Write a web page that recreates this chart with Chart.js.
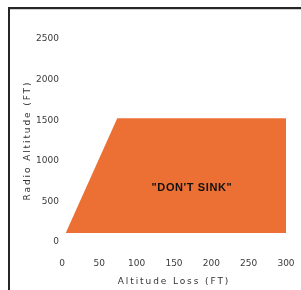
<!DOCTYPE html>
<html>
<head>
<meta charset="utf-8">
<script src="https://cdn.jsdelivr.net/npm/chart.js@4/dist/chart.umd.min.js"></script>
<style>
  html, body { margin: 0; padding: 0; background: #fff; }
  #wrap { position: relative; width: 301px; height: 290px; overflow: hidden; }
  #frame {
    position: absolute; left: 8px; top: 7px; width: 400px; height: 400px;
    border-top: 2px solid #262626; border-left: 2px solid #262626;
    box-shadow: inset 0 1px 0 #d0d0d0;
  }
  canvas { position: absolute; left: 0; top: 0; }
</style>
</head>
<body>
<div id="wrap">
  <div id="frame"></div>
  <canvas id="chart" width="301" height="290"></canvas>
</div>
<script>
// boundary of the "don't sink" zone
const altitudeLoss  = [5, 74, 300];
const radioAltitude = [110, 1525, 1525];
const floorAltitude = 110;

const xTicks = [0, 50, 100, 150, 200, 250, 300];
const yTicks = [0, 500, 1000, 1500, 2000, 2500];

const zoneLabel = '"DON\'T SINK"';
const zoneLabelAt = { x: 174, y: 660 };

const orange = '#EC6F33';
const inkGray = '#3a3a3a';

// titles are letter-spaced in the original
const spacedTitles = {
    id: 'spacedTitles',
    beforeDraw(chart) {
        Object.values(chart.scales).forEach(scale => {
            if (scale._spaced) return;
            const orig = scale.drawTitle;
            scale.drawTitle = function () {
                const c = this.ctx;
                c.save();
                c.letterSpacing = '1.9px';
                orig.apply(this, arguments);
                c.restore();
            };
            scale._spaced = true;
        });
    }
};

const zoneText = {
    id: 'zoneText',
    afterDatasetsDraw(chart) {
        const { ctx, scales: { x, y } } = chart;
        ctx.save();
        ctx.font = "bold 11px 'Liberation Sans', Arial, sans-serif";
        ctx.letterSpacing = '0.6px';
        ctx.fillStyle = '#111';
        ctx.textAlign = 'center';
        ctx.textBaseline = 'middle';
        ctx.fillText(zoneLabel, x.getPixelForValue(zoneLabelAt.x), y.getPixelForValue(zoneLabelAt.y));
        ctx.restore();
    }
};

const tickFont = { family: "'DejaVu Sans', sans-serif", size: 9 };

new Chart(document.getElementById('chart'), {
    type: 'line',
    data: {
        datasets: [{
            data: altitudeLoss.map((v, i) => ({ x: v, y: radioAltitude[i] })),
            backgroundColor: orange,
            borderWidth: 0,
            pointRadius: 0,
            tension: 0,
            fill: { value: floorAltitude }
        }]
    },
    options: {
        responsive: false,
        devicePixelRatio: 1,
        animation: false,
        layout: { padding: { top: 39, right: 15, bottom: 0, left: 0 } },
        plugins: {
            legend: { display: false },
            tooltip: { enabled: false }
        },
        scales: {
            x: {
                type: 'linear',
                min: xTicks[0],
                max: xTicks[xTicks.length - 1],
                afterBuildTicks: s => { s.ticks = xTicks.map(v => ({ value: v })); },
                afterFit: s => { s.height = 48; },
                grid: { display: false, drawTicks: true, tickLength: 13 },
                border: { display: false },
                ticks: { color: inkGray, font: tickFont, padding: 3, maxRotation: 0, callback: v => String(v) },
                title: {
                    display: true,
                    text: 'Altitude Loss (FT)',
                    color: '#333',
                    font: { family: "'DejaVu Sans', sans-serif", size: 9 },
                    padding: { top: 0, bottom: 3 }
                }
            },
            y: {
                type: 'linear',
                min: yTicks[0],
                max: yTicks[yTicks.length - 1],
                afterBuildTicks: s => { s.ticks = yTicks.map(v => ({ value: v })); },
                afterFit: s => { s.width = 62; },
                grid: { display: false, drawTicks: false },
                border: { display: false },
                ticks: { color: inkGray, font: tickFont, padding: 3, callback: v => String(v) },
                title: {
                    display: true,
                    text: 'Radio Altitude (FT)',
                    color: '#333',
                    font: { family: "'DejaVu Sans', sans-serif", size: 9 },
                    padding: { top: 22, bottom: 0 }
                }
            }
        }
    },
    plugins: [spacedTitles, zoneText]
});
</script>
</body>
</html>
